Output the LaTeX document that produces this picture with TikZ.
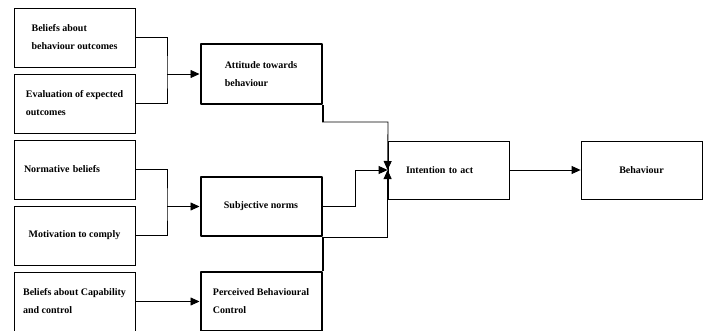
\documentclass[tikz,border=0pt]{standalone}
\usepackage{fontspec}
\setmainfont{Liberation Serif}
\usetikzlibrary{arrows.meta}

\begin{document}
\begin{tikzpicture}[x=1pt,y=-1pt,
  box/.style={draw, line width=0.8pt, minimum width=121pt, minimum height=59pt, inner sep=0pt, align=left, font=\bfseries\fontsize{10}{18}\selectfont},
  boldbox/.style={box, line width=2pt, line join=round},
  arr/.style={-{Triangle[length=9pt,width=8pt]}, line width=0.8pt}]
\useasboundingbox (0,0) rectangle (705,330);
\clip (0,0) rectangle (705,330);
\node[box] (b1) at (74.5,37.5) {Beliefs about\\behaviour outcomes};
\node[box] (b2) at (74.5,103.5) {Evaluation of expected\\outcomes};
\node[box, text width=101pt] (b3) at (74.5,169.5) {Normative beliefs};
\node[box] (b4) at (74.5,235.5) {Motivation to comply};
\node[box] (b5) at (74.5,301.5) {Beliefs about Capability\\and control};
\node[boldbox, minimum height=60pt] (att) at (261,74) {Attitude towards\\behaviour};
\node[boldbox] (sn) at (261,206.5) {Subjective norms};
\node[boldbox] (pbc) at (261,301.5) {Perceived Behavioural\\Control};
\node[box, minimum height=58pt, text width=85pt] (int) at (448.5,170) {Intention to act};
\node[box, minimum height=58pt] (beh) at (641.5,170) {Behaviour};
\coordinate (j1) at (167,74);
\coordinate (j2) at (167,206.5);
\coordinate (k1) at (388,122);
\coordinate (k2) at (355,170);
\draw[line width=0.8pt] (b1.east) -| (j1) |- (b2.east);
\draw[arr] (j1) -- (att.west);
\draw[line width=0.8pt] (b3.east) -| (j2) |- (b4.east);
\draw[arr] (j2) -- (sn.west);
\draw[arr] (b5.east) -- (pbc.west);
\draw[arr] (att.south east) |- (k1) -- (int.west);
\draw[line width=2pt] (att.south east) -- (att.south east |- k1);
\draw[arr] (sn.east) -| (k2) -- (int.west);
\draw[arr] (sn.south east) -| (int.west);
\draw[line width=2pt] (pbc.north east) -- (sn.south east);
\draw[arr] (int) -- (beh);
\end{tikzpicture}
\end{document}
